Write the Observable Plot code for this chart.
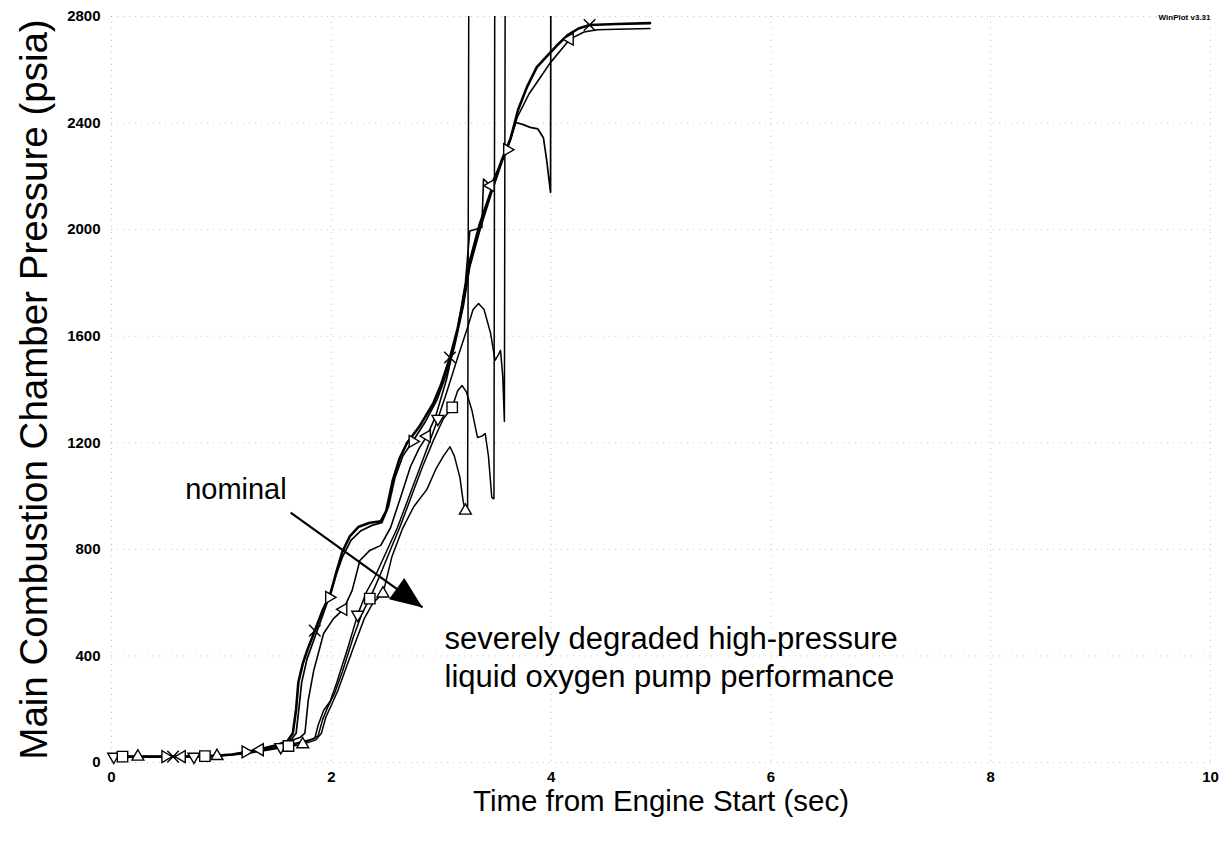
<!DOCTYPE html>
<html><head><meta charset="utf-8">
<script src="https://cdn.jsdelivr.net/npm/d3@7"></script>
<script src="https://cdn.jsdelivr.net/npm/@observablehq/plot@0.6"></script>
<style>body{margin:0;background:#fff;} #chart svg{display:block;}</style>
</head><body><div id="chart"></div>
<script>
// ---- tick labels ----
const xTicks = [0, 2, 4, 6, 8, 10];
const yTicks = [0, 400, 800, 1200, 1600, 2000, 2400, 2800];
const xLabel = "Time from Engine Start (sec)";
const yLabel = "Main Combustion Chamber Pressure (psia)";
const stamp = "WinPlot v3.31";

// ---- series: [time (sec), pressure (psia)] ----
const seriesCross = [[0,22],[0.3,22],[0.6,22],[0.9,24],[1.1,30],[1.3,45],[1.5,65],[1.6,80],[1.65,110],[1.68,200],[1.7,300],[1.74,370],[1.78,420],[1.85,495],[1.92,570],[1.99,630],[2.05,720],[2.1,790],[2.17,850],[2.25,885],[2.35,900],[2.45,905],[2.5,945],[2.56,1060],[2.62,1140],[2.69,1200],[2.8,1260],[2.93,1350],[3.0,1420],[3.08,1520],[3.15,1630],[3.2,1730],[3.26,1880],[3.35,2020],[3.45,2140],[3.55,2260],[3.63,2340],[3.7,2450],[3.78,2535],[3.87,2610],[3.96,2650],[4.05,2690],[4.15,2730],[4.25,2755],[4.35,2768],[4.6,2772],[4.9,2775]];
const seriesRight = [[0,22],[0.3,22],[0.6,22],[0.9,24],[1.1,30],[1.3,45],[1.5,62],[1.62,78],[1.68,110],[1.71,220],[1.73,300],[1.78,390],[1.85,470],[1.92,550],[1.98,620],[2.04,700],[2.1,770],[2.18,835],[2.27,870],[2.37,890],[2.46,900],[2.52,960],[2.58,1070],[2.65,1150],[2.74,1205],[2.85,1275],[2.96,1360],[3.05,1460],[3.12,1560],[3.2,1710],[3.26,1860],[3.36,2010],[3.46,2140],[3.55,2250],[3.62,2330],[3.68,2402],[3.74,2395],[3.81,2384],[3.88,2378],[3.93,2345],[3.96,2260],[3.98,2190],[3.995,2140],[4.0,3600]];
const seriesLeft = [[0,22],[0.3,22],[0.64,22],[0.9,24],[1.1,30],[1.35,48],[1.55,70],[1.72,95],[1.76,110],[1.79,233],[1.84,345],[1.93,484],[2.02,540],[2.11,575],[2.19,646],[2.26,758],[2.35,796],[2.45,815],[2.54,882],[2.63,995],[2.72,1110],[2.8,1180],[2.87,1225],[2.95,1300],[3.05,1440],[3.15,1630],[3.22,1800],[3.26,1995],[3.37,2008],[3.385,2190],[3.45,2165],[3.52,2230],[3.6,2300],[3.69,2420],[3.8,2510],[3.9,2570],[3.99,2625],[4.08,2670],[4.17,2715],[4.3,2742],[4.42,2750],[4.6,2752],[4.9,2755]];
const seriesDown = [[0,22],[0.3,22],[0.75,22],[1.0,26],[1.2,35],[1.54,58],[1.75,80],[1.85,90],[1.88,140],[1.93,195],[1.99,230],[2.05,300],[2.15,430],[2.24,555],[2.32,640],[2.4,700],[2.5,790],[2.6,880],[2.7,990],[2.8,1100],[2.9,1210],[2.97,1290],[3.05,1390],[3.15,1520],[3.24,1633],[3.29,1700],[3.34,1723],[3.39,1700],[3.45,1610],[3.49,1509],[3.52,1530],[3.54,1547],[3.56,1450],[3.575,1280],[3.585,3600]];
const seriesSquare = [[0,22],[0.4,22],[0.85,24],[1.1,30],[1.3,42],[1.61,62],[1.8,82],[1.88,100],[1.92,160],[1.97,210],[2.03,260],[2.1,340],[2.2,470],[2.28,560],[2.35,615],[2.43,690],[2.53,790],[2.63,890],[2.73,1000],[2.83,1110],[2.93,1210],[3.02,1290],[3.1,1333],[3.15,1395],[3.19,1415],[3.23,1390],[3.28,1321],[3.33,1220],[3.37,1225],[3.4,1235],[3.43,1150],[3.46,995],[3.48,990],[3.49,3600]];
const seriesUp = [[0,22],[0.5,22],[0.96,24],[1.2,32],[1.4,45],[1.74,68],[1.86,85],[1.91,110],[1.95,170],[2.0,215],[2.06,270],[2.13,350],[2.2,430],[2.3,540],[2.38,600],[2.47,634],[2.55,770],[2.65,880],[2.75,960],[2.87,1025],[2.95,1100],[3.02,1150],[3.08,1185],[3.12,1150],[3.17,1070],[3.2,980],[3.22,945],[3.24,960],[3.255,3600]];

// ---- marker positions ----
const marksCross = [[0.56,22],[1.85,495],[3.08,1520],[4.35,2768]];
const marksRight = [[0.49,22],[1.22,40],[1.98,620],[2.74,1205],[3.6,2300]];
const marksLeft = [[0.64,22],[1.35,48],[2.11,575],[2.87,1225],[3.45,2165],[4.17,2715]];
const marksDown = [[0.02,22],[0.75,22],[1.54,58],[2.24,555],[2.97,1290]];
const marksSquare = [[0.1,22],[0.85,24],[1.61,62],[2.35,615],[3.1,1333]];
const marksUp = [[0.24,22],[0.96,24],[1.74,68],[2.47,634],[3.22,945]];

// ---- annotations (data coordinates) ----
const nominalNote = {t: 0.67, p: 1025, text: "nominal"};
const degradedNote = [{t: 3.03, p: 462, text: "severely degraded high-pressure"}, {t: 3.03, p: 320, text: "liquid oxygen pump performance"}];
const arrowFrom = [1.63, 938];
const arrowTo = [2.83, 582];

// ---- symbols ----
function tri(angle) {
  return {draw(c, size) {
    const r = Math.sqrt(size / Math.PI) * 1.25;
    for (let k = 0; k < 3; k++) {
      const a = (angle + k * 120) * Math.PI / 180;
      const x = r * Math.cos(a), y = r * Math.sin(a);
      k === 0 ? c.moveTo(x, y) : c.lineTo(x, y);
    }
    c.closePath();
  }};
}
const symUp = tri(-90), symDown = tri(90), symLeft = tri(180), symRight = tri(0);
const symSquare = {draw(c, size) { const h = Math.sqrt(size / Math.PI) * 0.95; c.moveTo(-h,-h); c.lineTo(h,-h); c.lineTo(h,h); c.lineTo(-h,h); c.closePath(); }};
const symCross = {draw(c, size) { const h = Math.sqrt(size / Math.PI) * 1.05; c.moveTo(-h,-h); c.lineTo(h,h); c.moveTo(h,-h); c.lineTo(-h,h); }};
const symHead = {draw(c) { c.moveTo(0,0); c.lineTo(-32,-13); c.lineTo(-32,13); c.closePath(); }};

const series = [
  {data: seriesCross, marks: marksCross, sym: symCross, w: 2.6, fill: "none"},
  {data: seriesRight, marks: marksRight, sym: symRight, w: 1.7, fill: "white"},
  {data: seriesLeft, marks: marksLeft, sym: symLeft, w: 1.6, fill: "white"},
  {data: seriesDown, marks: marksDown, sym: symDown, w: 1.5, fill: "white"},
  {data: seriesSquare, marks: marksSquare, sym: symSquare, w: 1.5, fill: "white"},
  {data: seriesUp, marks: marksUp, sym: symUp, w: 1.5, fill: "white"}
];

const marks = [
  Plot.gridX(xTicks, {stroke: "#555", strokeDasharray: "1,5", strokeOpacity: 0.35}),
  Plot.gridY(yTicks, {stroke: "#555", strokeDasharray: "1,5", strokeOpacity: 0.35}),
  Plot.text(xTicks, {x: d => d, frameAnchor: "bottom", dy: 19, text: d => String(d), fontSize: 15, fontWeight: "bold", fill: "black"}),
  Plot.text(yTicks, {y: d => d, frameAnchor: "left", dx: -11, textAnchor: "end", text: d => String(d), fontSize: 15, fontWeight: "bold", fill: "black"})
];
for (const s of series) {
  marks.push(Plot.line(s.data, {x: d => d[0], y: d => d[1], stroke: "black", strokeWidth: s.w, clip: true}));
}
for (const s of series) {
  marks.push(Plot.dot(s.marks, {x: d => d[0], y: d => d[1], symbol: s.sym, r: 5.5, stroke: "black", strokeWidth: 1.4, fill: s.fill}));
}
marks.push(
  Plot.link([{a: arrowFrom, b: arrowTo}], {x1: d => d.a[0], y1: d => d.a[1], x2: d => d.b[0], y2: d => d.b[1], stroke: "black", strokeWidth: 2.2}),
  Plot.dot([arrowTo], {x: d => d[0], y: d => d[1], symbol: symHead, r: 10, fill: "black", stroke: "none", rotate: 36}),
  Plot.text([nominalNote], {x: "t", y: "p", text: "text", textAnchor: "start", fontSize: 29, fill: "black"}),
  Plot.text(degradedNote, {x: "t", y: "p", text: "text", textAnchor: "start", fontSize: 31, fill: "black"}),
  Plot.text([xLabel], {frameAnchor: "bottom", dy: 48, fontSize: 29.5, textAnchor: "middle", fill: "black"}),
  Plot.text([yLabel], {frameAnchor: "left", dx: -77, rotate: -90, textAnchor: "middle", fontSize: 38.5, fill: "black"}),
  Plot.text([stamp], {frameAnchor: "top-right", textAnchor: "end", dy: -2, fontSize: 8, fontWeight: "bold", fill: "black"})
);

const chart = Plot.plot({
  width: 1226,
  height: 843,
  marginLeft: 111,
  marginRight: 16,
  marginTop: 16,
  marginBottom: 81,
  x: {domain: [0, 10], axis: null},
  y: {domain: [0, 2800], axis: null},
  style: {fontFamily: "'Liberation Sans', Arial, sans-serif", color: "black", background: "white"},
  marks
});
document.getElementById("chart").append(chart);
</script>
</body></html>
